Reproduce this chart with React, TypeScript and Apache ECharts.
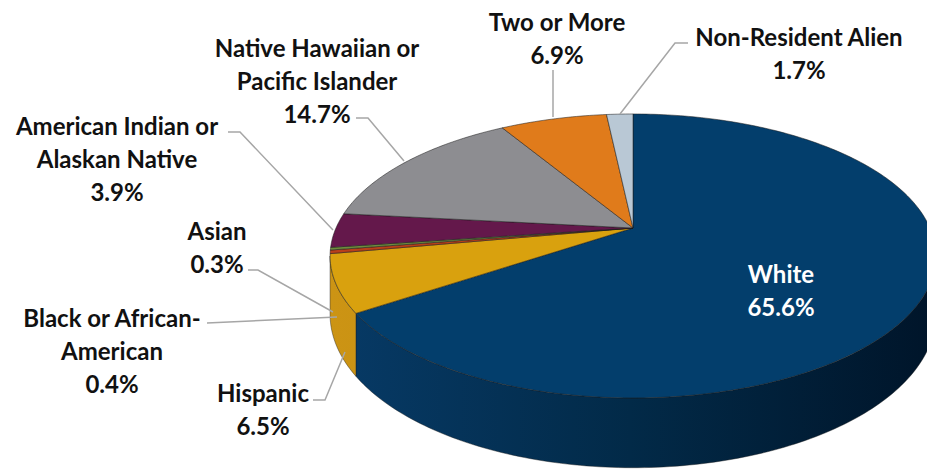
import React, { useEffect, useRef } from "react";
import * as echarts from "echarts";

// ---- data ----
const categories = [
  "White",
  "Hispanic",
  "Black or African-American",
  "Asian",
  "American Indian or Alaskan Native",
  "Native Hawaiian or Pacific Islander",
  "Two or More",
  "Non-Resident Alien",
];
const values = [65.6, 6.5, 0.4, 0.3, 3.9, 14.7, 6.9, 1.7];
const labelLines = [
  ["White"],
  ["Hispanic"],
  ["Black or African-", "American"],
  ["Asian"],
  ["American Indian or", "Alaskan Native"],
  ["Native Hawaiian or", "Pacific Islander"],
  ["Two or More"],
  ["Non-Resident Alien"],
];

// ---- styles / layout ----
const topColors = ["#033E6C", "#D9A10E", "#B8401A", "#6E8B3D", "#64184B", "#8D8D91", "#E07B1B", "#B9C8D5"];
const sideColors = [
  ["#073A66", "#022A48", "#00152A"],
  ["#CC9414", "#C08A12", "#B88510"],
  ["#A03516", "#952F14", "#8A2D12"],
  ["#5E7834", "#566F30", "#50662C"],
  ["#55143F", "#4E123A", "#480F35"],
  ["#7A7A7E", "#727276", "#6A6A6E"],
  ["#C86C15", "#BC6513", "#B05E12"],
  ["#A3B3C0", "#9BABB8", "#93A3B0"],
];
const labelPos = [
  [781, 290],
  [263, 409],
  [112, 350],
  [217, 247],
  [117, 158],
  [317, 80],
  [557, 38],
  [799, 53],
];
const labelColors = ["#FFFFFF", "#111111", "#111111", "#111111", "#111111", "#111111", "#111111", "#111111"];
const leaders: number[][][] = [
  [],
  [[313, 400], [325, 400], [345, 352]],
  [[207, 323], [337, 317]],
  [[248, 270], [258, 270], [333, 312]],
  [[228, 132], [240, 132], [333, 230]],
  [[356, 118], [368, 118], [404, 161]],
  [[553, 70], [553, 117]],
  [[688, 43], [675, 43], [620, 114]],
];

// perspective pie geometry
const CX = 633, CY = 228, A = 297, B = 136.5, K = 0.197, D = 56;
const proj = (t: number) => {
  const u = Math.sin(t), v = Math.cos(t);
  const den = 1 + K * v;
  return [CX + (A * u) / den, CY - (B * v) / den];
};
const depth = (t: number) => D / (1 + K * Math.cos(t));
const SIL = Math.acos(-K); // silhouette angle

const total = values.reduce((a, b) => a + b, 0);
const cumBefore = values.map((_, i) => values.slice(0, i).reduce((a, b) => a + b, 0));
const seriesData = values.map((v, i) => [v, cumBefore[i]]);

function arc(a: number, b: number) {
  const n = Math.max(2, Math.ceil(((b - a) * 180) / Math.PI));
  const pts: number[][] = [];
  for (let k = 0; k <= n; k++) pts.push(proj(a + ((b - a) * k) / n));
  return pts;
}

function renderItem(params: any, api: any) {
  const i = params.dataIndex;
  const v = api.value(0);
  const before = api.value(1);
  const a = (before / total) * Math.PI * 2;
  const b = ((before + v) / total) * Math.PI * 2;
  const children: any[] = [];

  // side wall (visible front part only)
  const wa = Math.max(a, SIL);
  const wb = Math.min(b, 2 * Math.PI - SIL);
  if (wb > wa) {
    const n = Math.max(2, Math.ceil(((wb - wa) * 180) / Math.PI));
    const topPts: number[][] = [];
    const botPts: number[][] = [];
    for (let k = 0; k <= n; k++) {
      const t = wa + ((wb - wa) * k) / n;
      const p = proj(t);
      topPts.push(p);
      botPts.push([p[0], p[1] + depth(t)]);
    }
    children.push({
      type: "polygon",
      z2: 1,
      shape: { points: topPts.concat(botPts.reverse()) },
      style: {
        fill: new echarts.graphic.LinearGradient(330, 0, 930, 0, [
          { offset: 0, color: sideColors[i][0] },
          { offset: 0.5, color: sideColors[i][1] },
          { offset: 1, color: sideColors[i][2] },
        ], true),
        stroke: "#1a1a1a",
        lineWidth: 0.6,
        strokeOpacity: 0.7,
      },
    });
  }

  // top face
  children.push({
    type: "polygon",
    z2: 5,
    shape: { points: [[CX, CY]].concat(arc(a, b)) },
    style: { fill: topColors[i], stroke: "#1a1a1a", lineWidth: 0.7, strokeOpacity: 0.75 },
  });

  // leader line
  if (leaders[i].length) {
    children.push({
      type: "polyline",
      z2: 8,
      shape: { points: leaders[i] },
      style: { stroke: "#A6A6A6", lineWidth: 1.5, fill: null },
    });
  }

  // label
  const txt = labelLines[i].concat([v.toFixed(1) + "%"]).join("\n");
  children.push({
    type: "text",
    z2: 10,
    style: {
      text: txt,
      x: labelPos[i][0],
      y: labelPos[i][1],
      align: "center",
      verticalAlign: "middle",
      fill: labelColors[i],
      fontFamily: "Lato",
      fontWeight: "bold",
      fontSize: 24,
      lineHeight: 33,
    },
  });

  return { type: "group", children };
}

export default function App() {
  const ref = useRef<HTMLDivElement>(null);
  useEffect(() => {
    const chart = echarts.init(ref.current!, null, { renderer: "svg" });
    chart.setOption({
      animation: false,
      backgroundColor: "#FFFFFF",
      series: [
        {
          type: "custom",
          name: "Enrollment",
          coordinateSystem: "none",
          silent: true,
          renderItem,
          data: seriesData.map((d, i) => ({ name: categories[i], value: d })),
        },
      ],
    });
    return () => chart.dispose();
  }, []);
  return (
    <div
      ref={ref}
      style={{ position: "fixed", left: 0, top: 0, width: 927, height: 471, background: "#fff" }}
    />
  );
}
